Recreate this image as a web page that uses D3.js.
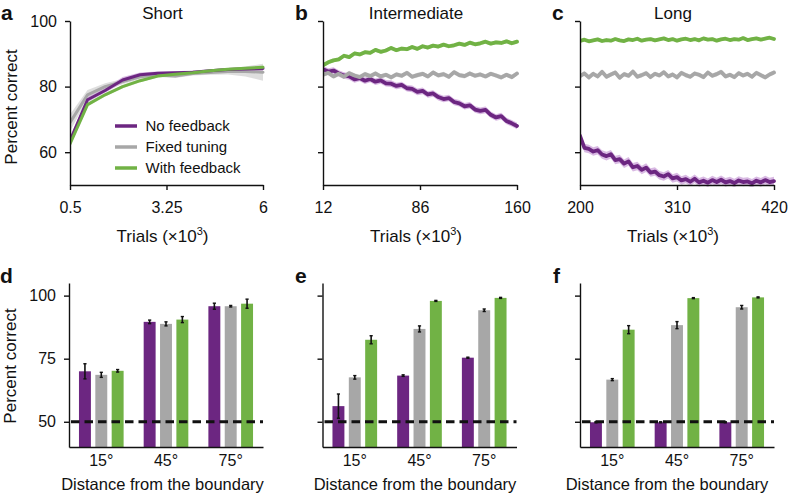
<!DOCTYPE html>
<html><head><meta charset="utf-8">
<script src="https://cdn.jsdelivr.net/npm/d3@7"></script>
<style>
body{margin:0;background:#fff;}
svg text{font-family:"Liberation Sans",Arial,Helvetica,sans-serif;fill:#111;}
</style></head><body>
<svg id="chart" width="788" height="499"></svg>
<script>
// ---------------- DATA ----------------
const seriesNames = ["No feedback", "Fixed tuning", "With feedback"];
const distances = ["15°", "45°", "75°"];

// Panel a (Short), trials x10^3
const shortTrials = [0.5, 1, 1.5, 2, 2.5, 3, 3.5, 4, 4.5, 5, 5.5, 6];
const shortNoFeedback = [63.5, 76.0, 78.8, 82.0, 83.6, 84.1, 84.2, 84.4, 84.8, 85.2, 85.4, 85.5];
const shortFixed = [69.0, 77.5, 80.0, 81.5, 83.0, 83.5, 83.2, 84.0, 84.3, 84.6, 84.6, 84.4];
const shortWithFeedback = [62.5, 74.5, 77.5, 80.0, 81.8, 83.2, 83.8, 84.2, 84.8, 85.3, 85.6, 85.9];
const shortNoFeedbackSem = [1.2, 0.8, 0.7, 0.9, 0.7, 0.5, 0.5, 0.5, 0.5, 0.5, 0.6, 0.8];
const shortFixedSem = [2.5, 1.5, 1.0, 0.8, 0.7, 0.6, 0.6, 0.6, 0.7, 0.9, 1.5, 2.6];
const shortWithFeedbackSem = [0.8, 0.6, 0.5, 0.5, 0.5, 0.4, 0.4, 0.4, 0.4, 0.4, 0.4, 0.5];

// Panel b (Intermediate), trials 12..160 step 4 (x10^3)
const intTrials = d3.range(12, 161, 4);
const intNoFeedback = [85.3,84.6,84.9,84.0,83.4,83.1,82.2,82.6,81.8,82.3,81.5,81.9,81.0,80.9,80.2,80.5,79.5,79.3,78.4,78.7,77.6,77.9,76.8,76.2,76.5,75.3,74.9,74.0,74.3,73.0,72.6,72.9,71.4,70.6,71.0,69.5,68.8,68.0];
const intFixed = [83.6,84.2,83.1,83.9,83.0,84.1,83.4,82.9,83.8,83.2,84.0,83.1,83.6,82.8,83.7,83.3,84.2,83.0,83.5,83.9,83.1,84.3,83.4,83.8,83.0,84.4,83.5,83.2,84.0,83.3,83.7,83.1,83.9,83.4,82.8,83.6,82.9,84.0];
const intWithFeedback = [86.5,87.4,88.0,88.3,89.4,89.0,90.1,89.8,90.5,90.3,91.2,90.6,91.0,91.8,91.1,91.6,91.4,92.1,91.5,92.3,91.9,92.5,92.2,92.8,92.3,92.6,93.1,92.7,93.4,92.9,93.2,93.7,93.1,93.5,93.3,93.8,93.2,93.7];
const intSem = [1.0, 0.7, 0.6];

// Panel c (Long), trials 200..420 step 5 (x10^3)
const longTrials = d3.range(200, 421, 5);
const longNoFeedback = [65.0,61.3,61.0,60.2,60.6,59.3,58.8,59.4,57.6,57.9,56.5,57.2,55.4,55.8,54.6,55.3,53.8,54.1,53.0,52.6,53.3,52.0,52.4,51.4,51.8,51.0,51.9,50.8,51.3,50.7,51.5,50.9,51.6,50.8,51.2,50.6,51.4,50.9,51.1,50.5,51.3,50.8,51.5,50.9,51.2];
const longFixed = [83.2,84.0,82.8,83.9,83.1,84.5,83.0,83.7,84.3,82.7,83.8,83.3,84.6,83.0,83.5,84.1,82.9,83.9,83.4,84.4,83.1,83.7,82.8,84.2,83.5,83.0,84.0,83.6,82.9,84.3,83.3,83.8,84.5,83.1,83.6,82.9,84.1,83.4,83.9,83.0,84.2,83.5,82.8,83.7,84.3];
const longWithFeedback = [93.9,94.3,93.8,94.1,94.4,93.9,94.2,94.0,94.5,94.1,93.9,94.4,94.2,94.6,94.0,94.3,94.5,94.1,94.4,94.7,94.2,94.5,94.0,94.4,94.6,94.2,94.5,94.1,94.7,94.3,94.5,94.0,94.4,94.6,94.2,94.5,94.3,94.8,94.2,94.5,94.7,94.3,94.6,94.9,94.5];
const longSem = [1.3, 0.7, 0.5];

// Bar panels d, e, f: mean percent correct and error
const dNoFeedback = [70.0, 89.6, 95.8];  const dNoFeedbackErr = [3.0, 0.7, 1.2];
const dFixed = [68.6, 88.8, 95.8];       const dFixedErr = [1.0, 0.8, 0.3];
const dWithFeedback = [70.2, 90.5, 96.8]; const dWithFeedbackErr = [0.5, 1.2, 1.8];
const eNoFeedback = [56.2, 68.3, 75.4];  const eNoFeedbackErr = [4.8, 0.3, 0.2];
const eFixed = [67.6, 86.8, 94.2];       const eFixedErr = [0.7, 1.2, 0.5];
const eWithFeedback = [82.5, 97.9, 99.1]; const eWithFeedbackErr = [1.6, 0.2, 0.2];
const fNoFeedback = [49.8, 49.8, 49.8];  const fNoFeedbackErr = [0.2, 0.2, 0.2];
const fFixed = [66.7, 88.3, 95.4];       const fFixedErr = [0.4, 1.4, 0.7];
const fWithFeedback = [86.5, 99.0, 99.3]; const fWithFeedbackErr = [1.6, 0.2, 0.2];

const topYTicks = [60, 80, 100];
const barYTicks = [50, 75, 100];

// ---------------- STYLE ----------------
const colors = ["#6c2681", "#a7a7a7", "#71b245"];
const lightColors = ["#d2aede", "#d8d8d8", "#c8e4b2"];
const svg = d3.select("#chart");

function addText(x, y, str, size, opts = {}) {
  const t = svg.append("text").attr("x", x).attr("y", y)
    .attr("font-size", size).text(str);
  if (opts.anchor) t.attr("text-anchor", opts.anchor);
  if (opts.bold) t.attr("font-weight", "bold");
  if (opts.rotate) t.attr("transform", `rotate(-90,${x},${y})`);
  return t;
}

function styleAxis(g) {
  g.selectAll("path.domain").attr("stroke", "#111").attr("stroke-width", 1.4);
  g.selectAll(".tick line").attr("stroke", "#111").attr("stroke-width", 1.4);
  g.selectAll(".tick text").attr("font-size", 16).attr("fill", "#111")
    .attr("font-family", '"Liberation Sans",Arial,Helvetica,sans-serif');
}

// ---------------- LINE PANELS ----------------
const yTop = d3.scaleLinear().domain([50, 100]).range([185, 21]);

const linePanels = [
  { x0: 70, x1: 263, domain: [0.5, 6], ticks: [0.5, 3.25, 6], title: "Short", letter: "a", letterX: 1,
    trials: shortTrials, vals: [shortFixed, shortNoFeedback, shortWithFeedback],
    sems: [shortFixedSem, shortNoFeedbackSem, shortWithFeedbackSem], order: [1, 0, 2],
    yLabels: true, lw: 3 },
  { x0: 323, x1: 517, domain: [12, 160], ticks: [12, 86, 160], title: "Intermediate", letter: "b", letterX: 295,
    trials: intTrials, vals: [intNoFeedback, intFixed, intWithFeedback],
    sems: intSem, order: [0, 1, 2], yLabels: false, lw: 3.8 },
  { x0: 580, x1: 774, domain: [200, 420], ticks: [200, 310, 420], title: "Long", letter: "c", letterX: 552,
    trials: longTrials, vals: [longNoFeedback, longFixed, longWithFeedback],
    sems: longSem, order: [0, 1, 2], yLabels: false, lw: 3.8 }
];

linePanels.forEach((p, pi) => {
  const x = d3.scaleLinear().domain(p.domain).range([p.x0, p.x1]);
  const clipId = "clip" + pi;
  svg.append("clipPath").attr("id", clipId).append("rect")
    .attr("x", p.x0).attr("y", 10).attr("width", p.x1 - p.x0 + 2).attr("height", 177);
  const g = svg.append("g").attr("clip-path", `url(#${clipId})`);
  p.vals.forEach((vals, k) => {
    const ci = p.order[k];
    const sem = p.sems[k];
    const s = i => Array.isArray(sem) ? sem[i] : sem;
    const pts = vals.map((v, i) => ({ t: p.trials[i], v, s: s(i) }));
    g.append("path").datum(pts)
      .attr("fill", lightColors[ci]).attr("opacity", 0.85)
      .attr("d", d3.area().x(d => x(d.t)).y0(d => yTop(d.v - d.s)).y1(d => yTop(d.v + d.s)));
  });
  p.vals.forEach((vals, k) => {
    const ci = p.order[k];
    const pts = vals.map((v, i) => ({ t: p.trials[i], v }));
    g.append("path").datum(pts)
      .attr("fill", "none").attr("stroke", colors[ci]).attr("stroke-width", p.lw)
      .attr("stroke-linejoin", "round").attr("stroke-linecap", "round")
      .attr("d", d3.line().x(d => x(d.t)).y(d => yTop(d.v)));
  });
  // axes
  const ya = svg.append("g").attr("transform", `translate(${p.x0},0)`)
    .call(d3.axisLeft(yTop).tickValues(topYTicks).tickSize(5).tickSizeOuter(0).tickPadding(8)
      .tickFormat(p.yLabels ? d3.format("d") : () => ""));
  styleAxis(ya);
  const xa = svg.append("g").attr("transform", `translate(0,185)`)
    .call(d3.axisBottom(x).tickValues(p.ticks).tickSize(5).tickSizeOuter(0).tickPadding(12)
      .tickFormat(d => String(d)));
  styleAxis(xa);
  // titles
  const cx = (p.x0 + p.x1) / 2 - 4;
  addText(cx, 19, p.title, 17, { anchor: "middle" });
  const xl = addText(cx, 242, "", 17, { anchor: "middle" });
  xl.append("tspan").text("Trials (×10");
  xl.append("tspan").attr("font-size", 11).attr("dy", -7).text("3");
  xl.append("tspan").attr("dy", 7).text(")");
  addText(p.letterX, 20, p.letter, 21, { bold: true });
});

addText(16.5, 107, "Percent correct", 17, { anchor: "middle", rotate: true });

// legend in panel a
const legendG = svg.append("g");
seriesNames.forEach((name, i) => {
  const yy = 126 + i * 21;
  legendG.append("line").attr("x1", 115).attr("x2", 137).attr("y1", yy).attr("y2", yy)
    .attr("stroke", colors[i]).attr("stroke-width", 3.5);
  legendG.append("text").attr("x", 145.5).attr("y", yy).attr("dy", "0.36em")
    .attr("font-size", 15).text(name);
});

// ---------------- BAR PANELS ----------------
const yBar = d3.scaleLinear().domain([40, 105]).range([447, 283]);

const barPanels = [
  { x0: 69, letter: "d", letterX: 0, labelX: 162.5, yLabels: true,
    vals: [dNoFeedback, dFixed, dWithFeedback], errs: [dNoFeedbackErr, dFixedErr, dWithFeedbackErr] },
  { x0: 322.5, letter: "e", letterX: 295, labelX: 415, yLabels: false,
    vals: [eNoFeedback, eFixed, eWithFeedback], errs: [eNoFeedbackErr, eFixedErr, eWithFeedbackErr] },
  { x0: 580, letter: "f", letterX: 553, labelX: 667, yLabels: false,
    vals: [fNoFeedback, fFixed, fWithFeedback], errs: [fNoFeedbackErr, fFixedErr, fWithFeedbackErr] }
];

barPanels.forEach(p => {
  const W = 194;
  const bx = d3.scaleBand().domain(distances).range([p.x0, p.x0 + W])
    .paddingInner(0.31).paddingOuter(0.154);
  const inner = d3.scaleBand().domain([0, 1, 2]).range([0, bx.bandwidth()]).paddingInner(0.27);
  const g = svg.append("g");
  distances.forEach((dist, j) => {
    [0, 1, 2].forEach(k => {
      const v = p.vals[k][j], e = p.errs[k][j];
      const bxl = bx(dist) + inner(k);
      g.append("rect").attr("x", bxl).attr("y", yBar(v))
        .attr("width", inner.bandwidth()).attr("height", yBar(40) - yBar(v))
        .attr("fill", colors[k]);
      const cxm = bxl + inner.bandwidth() / 2;
      g.append("line").attr("x1", cxm).attr("x2", cxm)
        .attr("y1", yBar(v - e)).attr("y2", yBar(v + e))
        .attr("stroke", "#111").attr("stroke-width", 1.6);
      [v - e, v + e].forEach(c => {
        g.append("line").attr("x1", cxm - 1.6).attr("x2", cxm + 1.6)
          .attr("y1", yBar(c)).attr("y2", yBar(c))
          .attr("stroke", "#111").attr("stroke-width", 1.4);
      });
    });
  });
  // chance line
  svg.append("line").attr("x1", p.x0 + 2).attr("x2", p.x0 + W)
    .attr("y1", yBar(50)).attr("y2", yBar(50))
    .attr("stroke", "#111").attr("stroke-width", 3).attr("stroke-dasharray", "8.5,5");
  const ya = svg.append("g").attr("transform", `translate(${p.x0},0)`)
    .call(d3.axisLeft(yBar).tickValues(barYTicks).tickSize(5).tickSizeOuter(0).tickPadding(8)
      .tickFormat(p.yLabels ? d3.format("d") : () => ""));
  styleAxis(ya);
  const xa = svg.append("g").attr("transform", `translate(0,447)`)
    .call(d3.axisBottom(bx).tickSize(0).tickSizeOuter(0).tickPadding(8));
  styleAxis(xa);
  addText(p.labelX, 490, "Distance from the boundary", 16.5, { anchor: "middle" });
  addText(p.letterX, 283, p.letter, 21, { bold: true });
});

addText(15.5, 366, "Percent correct", 17, { anchor: "middle", rotate: true });
</script>
</body></html>
